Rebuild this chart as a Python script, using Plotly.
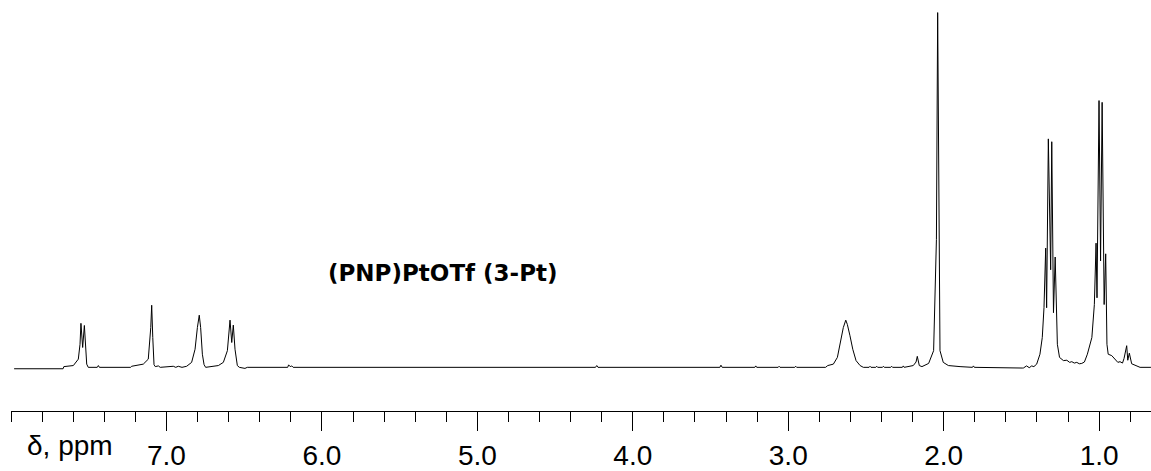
import plotly.graph_objects as go

# Spectrum trace: chemical shift (ppm) and relative intensity
ppm = [
    7.980, 7.665, 7.660, 7.600, 7.599, 7.567, 7.556, 7.550, 7.539, 7.528, 7.519, 7.513, 7.503,
    7.445, 7.438, 7.431, 7.230, 7.224, 7.149, 7.117, 7.101, 7.095, 7.088, 7.080, 7.072,
    7.052, 7.040, 6.956, 6.940, 6.924, 6.900, 6.870, 6.838, 6.816, 6.801, 6.789, 6.780,
    6.769, 6.758, 6.748, 6.666, 6.634, 6.608, 6.591, 6.580, 6.570, 6.559, 6.544, 6.531,
    6.495, 6.480, 6.220, 6.214, 6.204, 6.194, 6.185,
    4.240, 4.232, 4.224, 3.440, 3.433, 3.425, 3.215, 3.209, 3.203, 3.065, 3.059, 3.053,
    2.958, 2.952, 2.946, 2.760, 2.746, 2.710, 2.684, 2.663, 2.646, 2.630, 2.620, 2.603,
    2.585, 2.564, 2.538, 2.517, 2.480, 2.474, 2.468, 2.437, 2.431, 2.425, 2.394, 2.388,
    2.382, 2.341, 2.335, 2.329, 2.266, 2.260, 2.254, 2.196, 2.178, 2.170, 2.157, 2.140,
    2.097, 2.065, 2.047, 2.039, 2.030, 2.024, 2.003, 1.970, 1.895, 1.815, 1.809, 1.803,
    1.495, 1.488, 1.467, 1.450, 1.434, 1.420, 1.402, 1.381, 1.366, 1.355, 1.344, 1.338,
    1.327, 1.312, 1.305, 1.294, 1.283, 1.276, 1.269, 1.255, 1.230, 1.208, 1.190, 1.176,
    1.160, 1.144, 1.128, 1.112, 1.095, 1.076, 1.047, 1.031, 1.020, 1.014, 1.001, 0.991,
    0.981, 0.968, 0.958, 0.950, 0.942, 0.919, 0.898, 0.880, 0.866, 0.850, 0.840, 0.823,
    0.816, 0.806, 0.791, 0.758, 0.737, 0.667,
]
intensity = [
    -0.4, -0.4, 0.2, 0.4, 0.5, 2.3, 6.5, 12.4, 5.6, 11.8, 6.5, 0.9, 0.0,
    0.0, 0.5, 0.0, 0.0, 0.3, 0.9, 2.3, 11.2, 17.5, 8.4, 0.75, 0.2,
    0.4, 0.0, 0.3, 0.0, 0.3, 0.0, 0.3, 1.4, 5.1, 11.2, 14.7, 11.2,
    3.7, 0.75, 0.0, 0.5, 1.4, 4.7, 13.3, 7.0, 11.9, 5.1, 0.5, 0.0,
    -0.3, 0.0, 0.0, 0.7, 0.2, 0.4, 0.0,
    0.0, 0.5, 0.0, 0.0, 0.6, 0.0, 0.0, 0.4, 0.0, 0.0, 0.3, 0.0,
    0.0, 0.3, 0.0, 0.0, 0.5, 0.9, 2.8, 7.5, 11.2, 13.3, 12.1, 8.9,
    5.1, 1.9, 0.5, 0.0, 0.0, 0.3, 0.0, 0.0, 0.3, 0.0, 0.0, 0.3,
    0.0, 0.0, 0.3, 0.0, 0.0, 0.4, 0.0, 0.5, 1.5, 3.1, 0.5, 0.2,
    1.1, 4.7, 36.0, 100.0, 36.0, 4.7, 1.4, 0.5, 0.2, 0.0, 0.4, 0.0,
    -0.2, -0.2, 0.4, -0.1, 0.4, 0.2, 0.9, 3.7, 8.4, 16.8, 33.6, 16.8,
    64.4, 27.5, 63.6, 15.4, 31.1, 14.0, 6.5, 2.8, 1.9, 2.0, 1.4, 1.6,
    1.2, 1.4, 1.0, 1.1, 1.5, 3.7, 8.4, 17.7, 35.0, 19.6, 75.2, 30.0,
    74.7, 17.7, 32.0, 6.5, 3.7, 3.3, 2.3, 1.4, 1.6, 1.2, 2.5, 6.1,
    2.0, 4.0, 1.0, 0.3, 0.0, 0.0,
]

major_ticks = [8.0, 7.0, 6.0, 5.0, 4.0, 3.0, 2.0, 1.0]
major_labels = ["", "7.0", "6.0", "5.0", "4.0", "3.0", "2.0", "1.0"]
minor_ticks = [round(8.0 - 0.2 * i, 1) for i in range(0, 37)]

compound_label = "(PNP)PtOTf (3-Pt)"
axis_title = "δ, ppm"

fig = go.Figure()
fig.add_trace(go.Scatter(
    x=ppm, y=intensity, mode="lines",
    line=dict(color="black", width=1),
    hoverinfo="skip", showlegend=False,
))

fig.add_annotation(
    x=5.974, y=26.6, xref="x", yref="y",
    text="<b>" + compound_label + "</b>",
    showarrow=False, xanchor="left", yanchor="middle",
    font=dict(family="DejaVu Sans, sans-serif", size=23, color="black"),
)
fig.add_annotation(
    x=7.91, y=-0.085, xref="x", yref="paper",
    text=axis_title, showarrow=False, xanchor="left", yanchor="middle",
    font=dict(family="Liberation Sans, Arial, sans-serif", size=28, color="black"),
)

fig.update_layout(
    width=1151, height=471,
    margin=dict(l=11, r=0, t=0, b=57),
    paper_bgcolor="white", plot_bgcolor="white",
    font=dict(family="Liberation Sans, Arial, sans-serif", color="black"),
    xaxis=dict(
        range=[8.0, 0.6666], autorange=False,
        showgrid=False, zeroline=False,
        showline=True, linecolor="black", linewidth=1,
        ticks="outside", ticklen=19, tickwidth=1, tickcolor="black",
        tickmode="array", tickvals=major_ticks, ticktext=major_labels,
        tickfont=dict(size=28, color="black"),
        minor=dict(tickmode="array", tickvals=minor_ticks, ticks="outside",
                   ticklen=10, tickwidth=1, tickcolor="black", showgrid=False),
    ),
    yaxis=dict(range=[-12.31, 103.55], visible=False, showgrid=False, zeroline=False),
)

fig.write_html("out.html")
